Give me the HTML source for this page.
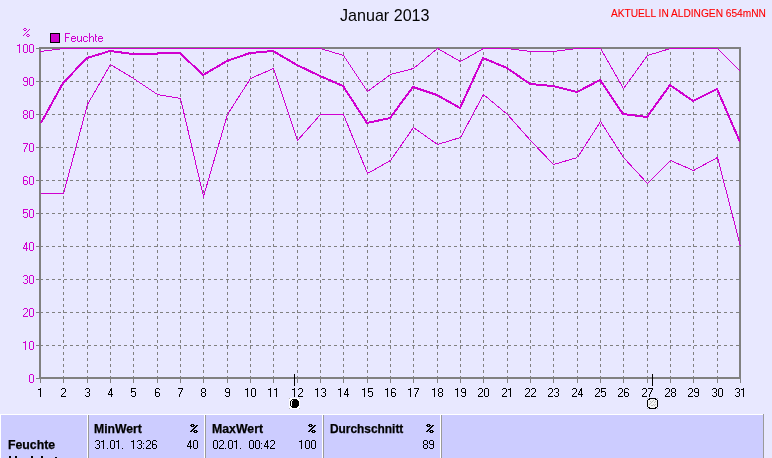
<!DOCTYPE html><html><head><meta charset="utf-8"><style>
*{margin:0;padding:0;box-sizing:border-box}
html,body{width:772px;height:458px;overflow:hidden;background:#E8E8FF;font-family:"Liberation Sans",sans-serif;position:relative}
.t{position:absolute;white-space:pre;line-height:1;transform-origin:0 0;will-change:transform;-webkit-text-stroke:0.25px currentColor}
.c{position:absolute;top:415px;height:43px;background:#CCCCFF}
.w{position:absolute;top:414px;height:44px;width:1px;background:#fff}
.g{position:absolute;top:415px;height:43px;width:1px;background:#9A9A9A}

</style></head><body>
<svg width="772" height="458" viewBox="0 0 772 458" style="position:absolute;left:0;top:0" shape-rendering="crispEdges"><line x1="40" y1="345.5" x2="739" y2="345.5" stroke="#808080" stroke-dasharray="3 3"/><line x1="40" y1="312.5" x2="739" y2="312.5" stroke="#808080" stroke-dasharray="3 3"/><line x1="40" y1="279.5" x2="739" y2="279.5" stroke="#808080" stroke-dasharray="3 3"/><line x1="40" y1="246.5" x2="739" y2="246.5" stroke="#808080" stroke-dasharray="3 3"/><line x1="40" y1="213.5" x2="739" y2="213.5" stroke="#808080" stroke-dasharray="3 3"/><line x1="40" y1="180.5" x2="739" y2="180.5" stroke="#808080" stroke-dasharray="3 3"/><line x1="40" y1="147.5" x2="739" y2="147.5" stroke="#808080" stroke-dasharray="3 3"/><line x1="40" y1="114.5" x2="739" y2="114.5" stroke="#808080" stroke-dasharray="3 3"/><line x1="40" y1="81.5" x2="739" y2="81.5" stroke="#808080" stroke-dasharray="3 3"/><line x1="63.5" y1="379" x2="63.5" y2="49" stroke="#808080" stroke-dasharray="3 3"/><line x1="87.5" y1="379" x2="87.5" y2="49" stroke="#808080" stroke-dasharray="3 3"/><line x1="110.5" y1="379" x2="110.5" y2="49" stroke="#808080" stroke-dasharray="3 3"/><line x1="133.5" y1="379" x2="133.5" y2="49" stroke="#808080" stroke-dasharray="3 3"/><line x1="157.5" y1="379" x2="157.5" y2="49" stroke="#808080" stroke-dasharray="3 3"/><line x1="180.5" y1="379" x2="180.5" y2="49" stroke="#808080" stroke-dasharray="3 3"/><line x1="203.5" y1="379" x2="203.5" y2="49" stroke="#808080" stroke-dasharray="3 3"/><line x1="227.5" y1="379" x2="227.5" y2="49" stroke="#808080" stroke-dasharray="3 3"/><line x1="250.5" y1="379" x2="250.5" y2="49" stroke="#808080" stroke-dasharray="3 3"/><line x1="273.5" y1="379" x2="273.5" y2="49" stroke="#808080" stroke-dasharray="3 3"/><line x1="297.5" y1="379" x2="297.5" y2="49" stroke="#808080" stroke-dasharray="3 3"/><line x1="320.5" y1="379" x2="320.5" y2="49" stroke="#808080" stroke-dasharray="3 3"/><line x1="343.5" y1="379" x2="343.5" y2="49" stroke="#808080" stroke-dasharray="3 3"/><line x1="367.5" y1="379" x2="367.5" y2="49" stroke="#808080" stroke-dasharray="3 3"/><line x1="390.5" y1="379" x2="390.5" y2="49" stroke="#808080" stroke-dasharray="3 3"/><line x1="413.5" y1="379" x2="413.5" y2="49" stroke="#808080" stroke-dasharray="3 3"/><line x1="437.5" y1="379" x2="437.5" y2="49" stroke="#808080" stroke-dasharray="3 3"/><line x1="460.5" y1="379" x2="460.5" y2="49" stroke="#808080" stroke-dasharray="3 3"/><line x1="483.5" y1="379" x2="483.5" y2="49" stroke="#808080" stroke-dasharray="3 3"/><line x1="507.5" y1="379" x2="507.5" y2="49" stroke="#808080" stroke-dasharray="3 3"/><line x1="530.5" y1="379" x2="530.5" y2="49" stroke="#808080" stroke-dasharray="3 3"/><line x1="553.5" y1="379" x2="553.5" y2="49" stroke="#808080" stroke-dasharray="3 3"/><line x1="577.5" y1="379" x2="577.5" y2="49" stroke="#808080" stroke-dasharray="3 3"/><line x1="600.5" y1="379" x2="600.5" y2="49" stroke="#808080" stroke-dasharray="3 3"/><line x1="623.5" y1="379" x2="623.5" y2="49" stroke="#808080" stroke-dasharray="3 3"/><line x1="647.5" y1="379" x2="647.5" y2="49" stroke="#808080" stroke-dasharray="3 3"/><line x1="670.5" y1="379" x2="670.5" y2="49" stroke="#808080" stroke-dasharray="3 3"/><line x1="693.5" y1="379" x2="693.5" y2="49" stroke="#808080" stroke-dasharray="3 3"/><line x1="717.5" y1="379" x2="717.5" y2="49" stroke="#808080" stroke-dasharray="3 3"/><line x1="36" y1="378.5" x2="40" y2="378.5" stroke="#808080"/><line x1="36" y1="345.5" x2="40" y2="345.5" stroke="#808080"/><line x1="36" y1="312.5" x2="40" y2="312.5" stroke="#808080"/><line x1="36" y1="279.5" x2="40" y2="279.5" stroke="#808080"/><line x1="36" y1="246.5" x2="40" y2="246.5" stroke="#808080"/><line x1="36" y1="213.5" x2="40" y2="213.5" stroke="#808080"/><line x1="36" y1="180.5" x2="40" y2="180.5" stroke="#808080"/><line x1="36" y1="147.5" x2="40" y2="147.5" stroke="#808080"/><line x1="36" y1="114.5" x2="40" y2="114.5" stroke="#808080"/><line x1="36" y1="81.5" x2="40" y2="81.5" stroke="#808080"/><line x1="36" y1="48.5" x2="40" y2="48.5" stroke="#808080"/><line x1="40.5" y1="379" x2="40.5" y2="383" stroke="#808080"/><line x1="63.5" y1="379" x2="63.5" y2="383" stroke="#808080"/><line x1="87.5" y1="379" x2="87.5" y2="383" stroke="#808080"/><line x1="110.5" y1="379" x2="110.5" y2="383" stroke="#808080"/><line x1="133.5" y1="379" x2="133.5" y2="383" stroke="#808080"/><line x1="157.5" y1="379" x2="157.5" y2="383" stroke="#808080"/><line x1="180.5" y1="379" x2="180.5" y2="383" stroke="#808080"/><line x1="203.5" y1="379" x2="203.5" y2="383" stroke="#808080"/><line x1="227.5" y1="379" x2="227.5" y2="383" stroke="#808080"/><line x1="250.5" y1="379" x2="250.5" y2="383" stroke="#808080"/><line x1="273.5" y1="379" x2="273.5" y2="383" stroke="#808080"/><line x1="297.5" y1="379" x2="297.5" y2="383" stroke="#808080"/><line x1="320.5" y1="379" x2="320.5" y2="383" stroke="#808080"/><line x1="343.5" y1="379" x2="343.5" y2="383" stroke="#808080"/><line x1="367.5" y1="379" x2="367.5" y2="383" stroke="#808080"/><line x1="390.5" y1="379" x2="390.5" y2="383" stroke="#808080"/><line x1="413.5" y1="379" x2="413.5" y2="383" stroke="#808080"/><line x1="437.5" y1="379" x2="437.5" y2="383" stroke="#808080"/><line x1="460.5" y1="379" x2="460.5" y2="383" stroke="#808080"/><line x1="483.5" y1="379" x2="483.5" y2="383" stroke="#808080"/><line x1="507.5" y1="379" x2="507.5" y2="383" stroke="#808080"/><line x1="530.5" y1="379" x2="530.5" y2="383" stroke="#808080"/><line x1="553.5" y1="379" x2="553.5" y2="383" stroke="#808080"/><line x1="577.5" y1="379" x2="577.5" y2="383" stroke="#808080"/><line x1="600.5" y1="379" x2="600.5" y2="383" stroke="#808080"/><line x1="623.5" y1="379" x2="623.5" y2="383" stroke="#808080"/><line x1="647.5" y1="379" x2="647.5" y2="383" stroke="#808080"/><line x1="670.5" y1="379" x2="670.5" y2="383" stroke="#808080"/><line x1="693.5" y1="379" x2="693.5" y2="383" stroke="#808080"/><line x1="717.5" y1="379" x2="717.5" y2="383" stroke="#808080"/><line x1="740.5" y1="379" x2="740.5" y2="383" stroke="#808080"/><rect x="39" y="47" width="702" height="2" fill="#808080"/><rect x="39" y="377" width="702" height="2" fill="#808080"/><rect x="39" y="47" width="2" height="332" fill="#808080"/><rect x="739" y="47" width="2" height="332" fill="#808080"/><polyline points="40.5,51.5 63.5,48.5 87.5,48.5 110.5,48.5 133.5,48.5 157.5,48.5 180.5,48.5 203.5,48.5 227.5,48.5 250.5,48.5 273.5,48.5 297.5,48.5 320.5,48.5 343.5,55.5 367.5,91.5 390.5,74.5 413.5,68.5 437.5,48.5 460.5,61.5 483.5,48.5 507.5,48.5 530.5,51.5 553.5,51.5 577.5,48.5 600.5,48.5 623.5,88.5 647.5,55.5 670.5,48.5 693.5,48.5 717.5,48.5 740.5,71.5" fill="none" stroke="#D000D0"/><polyline points="40.5,193.5 63.5,193.5 87.5,104.5 110.5,64.5 133.5,78.5 157.5,94.5 180.5,98.5 203.5,196.5 227.5,114.5 250.5,78.5 273.5,68.5 297.5,140.5 320.5,114.5 343.5,114.5 367.5,173.5 390.5,160.5 413.5,127.5 437.5,144.5 460.5,137.5 483.5,94.5 507.5,114.5 530.5,140.5 553.5,164.5 577.5,157.5 600.5,121.5 623.5,157.5 647.5,183.5 670.5,160.5 693.5,170.5 717.5,157.5 740.5,246.5" fill="none" stroke="#D000D0"/><clipPath id="pc"><rect x="40" y="40" width="700" height="340"/></clipPath><polyline clip-path="url(#pc)" points="41,123 63,83 87,58 110,51 133,54 157,54 158,53 180,53 203,75 227,61 250,53 273,51 297,65 320,76 343,86 367,123 390,118 413,87 437,95 460,108 483,58 507,68 530,84 553,86 577,92 600,80 623,114 647,117 670,85 693,101 717,89 740,142" fill="none" stroke="#D000D0" stroke-width="2"/><rect x="294" y="374" width="1" height="12" fill="#000"/><rect x="652" y="374" width="1" height="12" fill="#000"/></svg>
<svg width="772" height="458" style="position:absolute;left:0;top:0" shape-rendering="crispEdges"><rect x="289" y="398" width="11" height="11" fill="#fff"/><rect x="289" y="398" width="1" height="1" fill="#b4b4b4"/><rect x="299" y="398" width="1" height="1" fill="#b4b4b4"/><rect x="289" y="408" width="1" height="1" fill="#b4b4b4"/><rect x="299" y="408" width="1" height="1" fill="#b4b4b4"/><rect x="292" y="399" width="5" height="1" fill="#000"/><rect x="291" y="400" width="7" height="1" fill="#000"/><rect x="290" y="401" width="9" height="5" fill="#000"/><rect x="291" y="406" width="7" height="1" fill="#000"/><rect x="292" y="407" width="5" height="1" fill="#000"/><rect x="292" y="400" width="1" height="1" fill="#fff"/><rect x="291" y="401" width="1" height="5" fill="#fff"/><rect x="647" y="398" width="1" height="1" fill="#b4b4b4"/><rect x="657" y="398" width="1" height="1" fill="#b4b4b4"/><rect x="647" y="408" width="1" height="1" fill="#b4b4b4"/><rect x="657" y="408" width="1" height="1" fill="#b4b4b4"/><rect x="649" y="398" width="7" height="1" fill="#000"/><rect x="648" y="399" width="9" height="1" fill="#000"/><rect x="647" y="400" width="11" height="7" fill="#000"/><rect x="648" y="407" width="9" height="1" fill="#000"/><rect x="649" y="408" width="7" height="1" fill="#000"/><rect x="649" y="399" width="7" height="1" fill="#f4f4f4"/><rect x="648" y="400" width="9" height="7" fill="#f4f4f4"/><rect x="649" y="407" width="7" height="1" fill="#f4f4f4"/><rect x="649" y="399" width="1" height="1" fill="#000"/><rect x="655" y="399" width="1" height="1" fill="#000"/><rect x="649" y="407" width="1" height="1" fill="#000"/><rect x="655" y="407" width="1" height="1" fill="#000"/><rect x="653" y="400" width="1" height="1" fill="#c0c0c0"/><rect x="652" y="401" width="1" height="1" fill="#c0c0c0"/><rect x="651" y="402" width="1" height="1" fill="#c0c0c0"/><rect x="650" y="403" width="1" height="1" fill="#c0c0c0"/><rect x="649" y="404" width="1" height="1" fill="#c0c0c0"/><rect x="654" y="402" width="1" height="1" fill="#c0c0c0"/><rect x="653" y="404" width="1" height="1" fill="#c0c0c0"/><rect x="652" y="405" width="1" height="1" fill="#c0c0c0"/><rect x="655" y="404" width="1" height="1" fill="#c0c0c0"/><rect x="654" y="405" width="1" height="1" fill="#c0c0c0"/><rect x="650" y="401" width="1" height="1" fill="#c0c0c0"/><rect x="651" y="405" width="1" height="1" fill="#c0c0c0"/><rect x="655" y="401" width="1" height="1" fill="#c0c0c0"/></svg>
<div class="t" style="left:340.00px;top:7px;font-size:16.1px;font-weight:400;color:#000;transform:scaleX(1.0000);-webkit-text-stroke:0">Januar 2013</div>
<div class="t" style="left:611.00px;top:9px;font-size:10.1px;font-weight:400;color:#FF0000;transform:scaleX(1.0065);-webkit-text-stroke:0.1px currentColor">AKTUELL IN ALDINGEN 654mNN</div>
<div style="position:absolute;left:50px;top:33px;width:10px;height:10px;background:#CC00CC;border:1px solid #000"></div>
<div style="position:absolute;left:0;top:414px;width:763px;height:1px;background:#fff"></div>
<div style="position:absolute;left:0;top:414px;width:1px;height:44px;background:#fff"></div>
<div style="position:absolute;left:763px;top:414px;width:1px;height:44px;background:#9A9A9A"></div>
<div class="c" style="left:1px;width:86px"></div>
<div class="c" style="left:89px;width:115px"></div>
<div class="c" style="left:206px;width:116px"></div>
<div class="c" style="left:324px;width:116px"></div>
<div class="c" style="left:442px;width:321px"></div>
<div class="w" style="left:87px"></div><div class="g" style="left:88px"></div>
<div class="w" style="left:204px"></div><div class="g" style="left:205px"></div>
<div class="w" style="left:322px"></div><div class="g" style="left:323px"></div>
<div class="w" style="left:440px"></div><div class="g" style="left:441px"></div>
<div class="t" style="left:8.00px;top:439px;font-size:12.3px;font-weight:700;color:#000;transform:scaleX(1.0000);">Feuchte</div>
<div style="position:absolute;left:9px;top:456px;width:2px;height:2px;background:#000"></div>
<div style="position:absolute;left:15px;top:456px;width:2px;height:2px;background:#000"></div>
<div style="position:absolute;left:31px;top:456px;width:2px;height:2px;background:#000"></div>
<div style="position:absolute;left:41px;top:456px;width:2px;height:2px;background:#000"></div>
<div style="position:absolute;left:55px;top:457px;width:2px;height:1px;background:#000"></div>
<div class="t" style="left:94.00px;top:423px;font-size:12.2px;font-weight:700;color:#000;transform:scaleX(1.0000);">MinWert</div>
<div class="t" style="left:212.00px;top:423px;font-size:12.3px;font-weight:700;color:#000;transform:scaleX(1.0000);">MaxWert</div>
<div class="t" style="left:330.00px;top:424px;font-size:11.9px;font-weight:700;color:#000;transform:scaleX(1.0000);">Durchschnitt</div>
<svg width="772" height="458" style="position:absolute;left:0;top:0" shape-rendering="crispEdges"><defs><path id="g0" d="M1 0h3v1h-3zM0 1h1v1h-1zM4 1h1v1h-1zM0 2h1v1h-1zM4 2h1v1h-1zM0 3h1v1h-1zM4 3h1v1h-1zM0 4h1v1h-1zM4 4h1v1h-1zM0 5h1v1h-1zM4 5h1v1h-1zM0 6h1v1h-1zM4 6h1v1h-1zM0 7h1v1h-1zM4 7h1v1h-1zM1 8h3v1h-3z"/><path id="g1" d="M2 0h1v1h-1zM0 1h3v1h-3zM2 2h1v1h-1zM2 3h1v1h-1zM2 4h1v1h-1zM2 5h1v1h-1zM2 6h1v1h-1zM2 7h1v1h-1zM2 8h1v1h-1z"/><path id="g2" d="M1 0h3v1h-3zM0 1h1v1h-1zM4 1h1v1h-1zM4 2h1v1h-1zM4 3h1v1h-1zM3 4h1v1h-1zM2 5h1v1h-1zM1 6h1v1h-1zM0 7h1v1h-1zM0 8h5v1h-5z"/><path id="g3" d="M1 0h3v1h-3zM0 1h1v1h-1zM4 1h1v1h-1zM4 2h1v1h-1zM4 3h1v1h-1zM2 4h2v1h-2zM4 5h1v1h-1zM4 6h1v1h-1zM0 7h1v1h-1zM4 7h1v1h-1zM1 8h3v1h-3z"/><path id="g4" d="M3 0h1v1h-1zM2 1h2v1h-2zM2 2h2v1h-2zM1 3h1v1h-1zM3 3h1v1h-1zM1 4h1v1h-1zM3 4h1v1h-1zM0 5h1v1h-1zM3 5h1v1h-1zM0 6h5v1h-5zM3 7h1v1h-1zM3 8h1v1h-1z"/><path id="g5" d="M0 0h5v1h-5zM0 1h1v1h-1zM0 2h1v1h-1zM0 3h4v1h-4zM0 4h1v1h-1zM4 4h1v1h-1zM4 5h1v1h-1zM4 6h1v1h-1zM0 7h1v1h-1zM4 7h1v1h-1zM1 8h3v1h-3z"/><path id="g6" d="M1 0h3v1h-3zM0 1h1v1h-1zM4 1h1v1h-1zM0 2h1v1h-1zM0 3h1v1h-1zM0 4h4v1h-4zM0 5h1v1h-1zM4 5h1v1h-1zM0 6h1v1h-1zM4 6h1v1h-1zM0 7h1v1h-1zM4 7h1v1h-1zM1 8h3v1h-3z"/><path id="g7" d="M0 0h5v1h-5zM4 1h1v1h-1zM3 2h1v1h-1zM3 3h1v1h-1zM2 4h1v1h-1zM2 5h1v1h-1zM1 6h1v1h-1zM1 7h1v1h-1zM1 8h1v1h-1z"/><path id="g8" d="M1 0h3v1h-3zM0 1h1v1h-1zM4 1h1v1h-1zM0 2h1v1h-1zM4 2h1v1h-1zM0 3h1v1h-1zM4 3h1v1h-1zM1 4h3v1h-3zM0 5h1v1h-1zM4 5h1v1h-1zM0 6h1v1h-1zM4 6h1v1h-1zM0 7h1v1h-1zM4 7h1v1h-1zM1 8h3v1h-3z"/><path id="g9" d="M1 0h3v1h-3zM0 1h1v1h-1zM4 1h1v1h-1zM0 2h1v1h-1zM4 2h1v1h-1zM0 3h1v1h-1zM4 3h1v1h-1zM1 4h4v1h-4zM4 5h1v1h-1zM4 6h1v1h-1zM0 7h1v1h-1zM4 7h1v1h-1zM1 8h3v1h-3z"/><path id="gdot" d="M0 8h1v1h-1z"/><path id="gcol" d="M0 3h1v1h-1zM0 8h1v1h-1z"/><path id="lF" d="M0 0h5v1h-5zM0 1h1v1h-1zM0 2h1v1h-1zM0 3h1v1h-1zM0 4h4v1h-4zM0 5h1v1h-1zM0 6h1v1h-1zM0 7h1v1h-1zM0 8h1v1h-1z"/><path id="lu" d="M0 3h1v1h-1zM4 3h1v1h-1zM0 4h1v1h-1zM4 4h1v1h-1zM0 5h1v1h-1zM4 5h1v1h-1zM0 6h1v1h-1zM4 6h1v1h-1zM0 7h1v1h-1zM3 7h2v1h-2zM1 8h2v1h-2zM4 8h1v1h-1z"/><path id="lc" d="M1 3h3v1h-3zM0 4h1v1h-1zM4 4h1v1h-1zM0 5h1v1h-1zM0 6h1v1h-1zM0 7h1v1h-1zM4 7h1v1h-1zM1 8h3v1h-3z"/><path id="lh" d="M0 0h1v1h-1zM0 1h1v1h-1zM0 2h1v1h-1zM0 3h1v1h-1zM2 3h2v1h-2zM0 4h2v1h-2zM4 4h1v1h-1zM0 5h1v1h-1zM4 5h1v1h-1zM0 6h1v1h-1zM4 6h1v1h-1zM0 7h1v1h-1zM4 7h1v1h-1zM0 8h1v1h-1zM4 8h1v1h-1z"/><path id="lt" d="M0 1h1v1h-1zM0 2h1v1h-1zM0 3h2v1h-2zM0 4h1v1h-1zM0 5h1v1h-1zM0 6h1v1h-1zM0 7h1v1h-1zM1 8h1v1h-1z"/><path id="le" d="M1 3h3v1h-3zM0 4h1v1h-1zM4 4h1v1h-1zM0 5h5v1h-5zM0 6h1v1h-1zM0 7h1v1h-1zM4 7h1v1h-1zM1 8h3v1h-3z"/><path id="lpct" d="M1 0h2v1h-2zM0 1h1v1h-1zM3 1h1v1h-1zM6 1h1v1h-1zM1 2h2v1h-2zM5 2h1v1h-1zM4 3h1v1h-1zM3 4h1v1h-1zM2 5h1v1h-1zM1 6h1v1h-1zM4 6h2v1h-2zM0 7h1v1h-1zM3 7h1v1h-1zM6 7h1v1h-1zM4 8h2v1h-2z"/><path id="lbpct" d="M1 0h3v1h-3zM0 1h2v1h-2zM3 1h2v1h-2zM6 1h2v1h-2zM1 2h3v1h-3zM5 2h2v1h-2zM4 3h2v1h-2zM3 4h2v1h-2zM2 5h2v1h-2zM1 6h2v1h-2zM4 6h3v1h-3zM0 7h2v1h-2zM3 7h2v1h-2zM6 7h2v1h-2zM4 8h3v1h-3z"/></defs><g fill="#D000D0"><use href="#g0" x="29" y="374"/></g><g fill="#D000D0"><use href="#g1" x="23" y="341"/><use href="#g0" x="29" y="341"/></g><g fill="#D000D0"><use href="#g2" x="23" y="308"/><use href="#g0" x="29" y="308"/></g><g fill="#D000D0"><use href="#g3" x="23" y="275"/><use href="#g0" x="29" y="275"/></g><g fill="#D000D0"><use href="#g4" x="23" y="242"/><use href="#g0" x="29" y="242"/></g><g fill="#D000D0"><use href="#g5" x="23" y="209"/><use href="#g0" x="29" y="209"/></g><g fill="#D000D0"><use href="#g6" x="23" y="176"/><use href="#g0" x="29" y="176"/></g><g fill="#D000D0"><use href="#g7" x="23" y="143"/><use href="#g0" x="29" y="143"/></g><g fill="#D000D0"><use href="#g8" x="23" y="110"/><use href="#g0" x="29" y="110"/></g><g fill="#D000D0"><use href="#g9" x="23" y="77"/><use href="#g0" x="29" y="77"/></g><g fill="#D000D0"><use href="#g1" x="17" y="44"/><use href="#g0" x="23" y="44"/><use href="#g0" x="29" y="44"/></g><g fill="#000"><use href="#g1" x="38" y="388"/></g><g fill="#000"><use href="#g2" x="61" y="388"/></g><g fill="#000"><use href="#g3" x="85" y="388"/></g><g fill="#000"><use href="#g4" x="108" y="388"/></g><g fill="#000"><use href="#g5" x="131" y="388"/></g><g fill="#000"><use href="#g6" x="155" y="388"/></g><g fill="#000"><use href="#g7" x="178" y="388"/></g><g fill="#000"><use href="#g8" x="201" y="388"/></g><g fill="#000"><use href="#g9" x="225" y="388"/></g><g fill="#000"><use href="#g1" x="245" y="388"/><use href="#g0" x="251" y="388"/></g><g fill="#000"><use href="#g1" x="268" y="388"/><use href="#g1" x="274" y="388"/></g><g fill="#000"><use href="#g1" x="292" y="388"/><use href="#g2" x="298" y="388"/></g><g fill="#000"><use href="#g1" x="315" y="388"/><use href="#g3" x="321" y="388"/></g><g fill="#000"><use href="#g1" x="338" y="388"/><use href="#g4" x="344" y="388"/></g><g fill="#000"><use href="#g1" x="362" y="388"/><use href="#g5" x="368" y="388"/></g><g fill="#000"><use href="#g1" x="385" y="388"/><use href="#g6" x="391" y="388"/></g><g fill="#000"><use href="#g1" x="408" y="388"/><use href="#g7" x="414" y="388"/></g><g fill="#000"><use href="#g1" x="432" y="388"/><use href="#g8" x="438" y="388"/></g><g fill="#000"><use href="#g1" x="455" y="388"/><use href="#g9" x="461" y="388"/></g><g fill="#000"><use href="#g2" x="478" y="388"/><use href="#g0" x="484" y="388"/></g><g fill="#000"><use href="#g2" x="502" y="388"/><use href="#g1" x="508" y="388"/></g><g fill="#000"><use href="#g2" x="525" y="388"/><use href="#g2" x="531" y="388"/></g><g fill="#000"><use href="#g2" x="548" y="388"/><use href="#g3" x="554" y="388"/></g><g fill="#000"><use href="#g2" x="572" y="388"/><use href="#g4" x="578" y="388"/></g><g fill="#000"><use href="#g2" x="595" y="388"/><use href="#g5" x="601" y="388"/></g><g fill="#000"><use href="#g2" x="618" y="388"/><use href="#g6" x="624" y="388"/></g><g fill="#000"><use href="#g2" x="642" y="388"/><use href="#g7" x="648" y="388"/></g><g fill="#000"><use href="#g2" x="665" y="388"/><use href="#g8" x="671" y="388"/></g><g fill="#000"><use href="#g2" x="688" y="388"/><use href="#g9" x="694" y="388"/></g><g fill="#000"><use href="#g3" x="712" y="388"/><use href="#g0" x="718" y="388"/></g><g fill="#000"><use href="#g3" x="735" y="388"/><use href="#g1" x="741" y="388"/></g><g fill="#000"><use href="#g3" x="95" y="440"/><use href="#g1" x="101" y="440"/><use href="#gdot" x="107" y="440"/><use href="#g0" x="110" y="440"/><use href="#g1" x="116" y="440"/><use href="#gdot" x="122" y="440"/><use href="#g1" x="131" y="440"/><use href="#g3" x="137" y="440"/><use href="#gcol" x="143" y="440"/><use href="#g2" x="146" y="440"/><use href="#g6" x="152" y="440"/></g><g fill="#000"><use href="#g0" x="213" y="440"/><use href="#g2" x="219" y="440"/><use href="#gdot" x="225" y="440"/><use href="#g0" x="228" y="440"/><use href="#g1" x="234" y="440"/><use href="#gdot" x="240" y="440"/><use href="#g0" x="249" y="440"/><use href="#g0" x="255" y="440"/><use href="#gcol" x="261" y="440"/><use href="#g4" x="264" y="440"/><use href="#g2" x="270" y="440"/></g><g fill="#000"><use href="#g4" x="187" y="440"/><use href="#g0" x="193" y="440"/></g><g fill="#000"><use href="#g1" x="299" y="440"/><use href="#g0" x="305" y="440"/><use href="#g0" x="311" y="440"/></g><g fill="#000"><use href="#g8" x="423" y="440"/><use href="#g9" x="429" y="440"/></g><g fill="#D000D0"><use href="#lF" x="65" y="33"/><use href="#le" x="71" y="33"/><use href="#lu" x="77" y="33"/><use href="#lc" x="83" y="33"/><use href="#lh" x="89" y="33"/><use href="#lt" x="95" y="33"/><use href="#le" x="98" y="33"/></g><g fill="#D000D0"><use href="#lpct" x="23" y="28"/></g><g fill="#000"><use href="#lbpct" x="190" y="424"/></g><g fill="#000"><use href="#lbpct" x="308" y="424"/></g><g fill="#000"><use href="#lbpct" x="426" y="424"/></g></svg>
</body></html>
